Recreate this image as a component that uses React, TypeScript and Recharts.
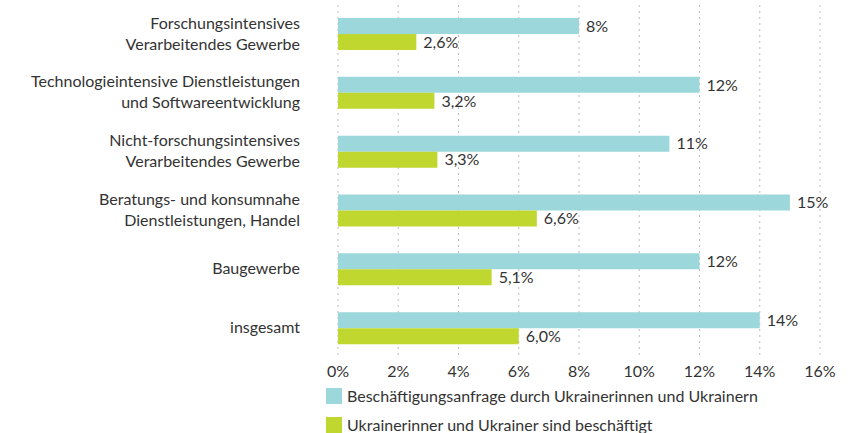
import { BarChart, Bar, XAxis, YAxis, CartesianGrid, Legend, LabelList } from 'recharts';

const categories = [
  'Forschungsintensives\nVerarbeitendes Gewerbe',
  'Technologieintensive Dienstleistungen\nund Softwareentwicklung',
  'Nicht-forschungsintensives\nVerarbeitendes Gewerbe',
  'Beratungs- und konsumnahe\nDienstleistungen, Handel',
  'Baugewerbe',
  'insgesamt',
];
const anfrage = [8, 12, 11, 15, 12, 14];
const beschaeftigt = [2.6, 3.2, 3.3, 6.6, 5.1, 6.0];
const xTicks = [0, 2, 4, 6, 8, 10, 12, 14, 16];

const seriesNames = [
  'Beschäftigungsanfrage durch Ukrainerinnen und Ukrainern',
  'Ukrainerinner und Ukrainer sind beschäftigt',
];
const colors = ['#9bd7db', '#bfd72f'];
const font = 'Lato, "Open Sans", sans-serif';
const textColor = '#333';

const data = categories.map((name, i) => ({
  name,
  anfrage: anfrage[i],
  beschaeftigt: beschaeftigt[i],
}));

function CategoryTick(props: any) {
  const { x, y, payload } = props;
  const lines: string[] = String(payload.value).split('\n');
  const lh = 21;
  const start = -((lines.length - 1) * lh) / 2;
  return (
    <text x={x - 30} y={y} textAnchor="end" fill={textColor} fontSize={16} fontFamily={font}>
      {lines.map((l, i) => (
        <tspan key={i} x={x - 30} y={y + start + i * lh - 1} dy="0.35em">
          {l}
        </tspan>
      ))}
    </text>
  );
}

function LegendBox() {
  return (
    <div style={{ fontFamily: font, fontSize: 16, color: textColor }}>
      {seriesNames.map((n, i) => (
        <div key={n} style={{ display: 'flex', alignItems: 'center', height: 29 }}>
          <span style={{ width: 16, height: 16, background: colors[i], marginRight: 5, display: 'inline-block' }} />
          <span style={{ lineHeight: '16px' }}>{n}</span>
        </div>
      ))}
    </div>
  );
}

export default function App() {
  return (
    <div style={{ position: 'absolute', left: 0, top: 0, width: 850, height: 433, background: '#fff', overflow: 'hidden' }}>
      <BarChart
        width={850}
        height={433}
        data={data}
        layout="vertical"
        margin={{ top: 5, right: 30, bottom: 0, left: 0 }}
        barGap={0}
        barSize={16}
      >
        <CartesianGrid horizontal={false} stroke="#bdbdbd" strokeDasharray="2 4" />
        <XAxis
          type="number"
          domain={[0, 16]}
          ticks={xTicks}
          tickFormatter={(v) => `${v}%`}
          axisLine={false}
          tickLine={false}
          height={27}
          tick={{ fill: textColor, fontSize: 16, fontFamily: font }}
        />
        <YAxis
          type="category"
          dataKey="name"
          width={338}
          axisLine={false}
          tickLine={false}
          interval={0}
          tick={<CategoryTick />}
        />
        <Legend
          verticalAlign="bottom"
          align="left"
          height={48}
          wrapperStyle={{ left: 326, top: 381 }}
          content={() => <LegendBox />}
        />
        <Bar dataKey="anfrage" name={seriesNames[0]} fill={colors[0]} isAnimationActive={false}>
          <LabelList
            dataKey="anfrage"
            position="right"
            offset={7}
            formatter={(v: any) => `${v}%`}
            style={{ fill: textColor, fontSize: 16, fontFamily: font }}
          />
        </Bar>
        <Bar dataKey="beschaeftigt" name={seriesNames[1]} fill={colors[1]} isAnimationActive={false}>
          <LabelList
            dataKey="beschaeftigt"
            position="right"
            offset={7}
            formatter={(v: any) => `${Number(v).toFixed(1).replace('.', ',')}%`}
            style={{ fill: textColor, fontSize: 16, fontFamily: font }}
          />
        </Bar>
      </BarChart>
    </div>
  );
}
